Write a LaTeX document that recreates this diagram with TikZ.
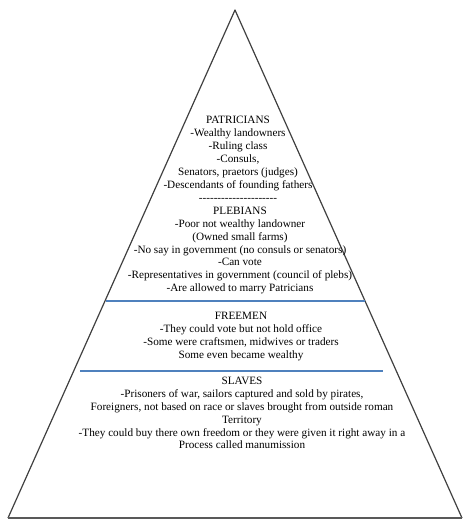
\documentclass[tikz,border=0pt]{standalone}
\usepackage{fontspec}
\setmainfont{Liberation Serif}
\newfontfamily\plainserif{Liberation Serif}
\usepackage{xcolor}
\definecolor{tierblue}{RGB}{79,129,189}

\begin{document}
\begin{tikzpicture}[x=0.75pt, y=-0.75pt,
    tier/.style={align=center, inner sep=0pt, font=\fontsize{8.4}{9.7}\selectfont},
    divider/.style={tierblue, line width=1.5pt}]
  \useasboundingbox (0,0) rectangle (474,522);
  \coordinate (apex) at (235,10);
  \coordinate (bl) at (8,518);
  \coordinate (br) at (462,518);
  \draw[line width=0.9pt, black!75, line join=round] (bl) -- (apex) -- (br);
  \draw[line width=1.4pt, black!65] (bl) -- (br);
  \coordinate (d1l) at (106,301); \coordinate (d1r) at (365,301);
  \coordinate (d2l) at (80,371);  \coordinate (d2r) at (383,371);
  \draw[divider] (d1l) -- (d1r);
  \draw[divider] (d2l) -- (d2r);
  \node[tier] (patricians) at (238,158.5) {PATRICIANS\\ -Wealthy landowners\\ -Ruling class\\ -Consuls,\\
    Senators, praetors (judges)\\ -Descendants of founding fathers\\ {\plainserif---------------------}};
  \node[tier] (plebians) at (240,250.5) {PLEBIANS\\ -Poor not wealthy landowner\\ (Owned small farms)\\
    -No say in government (no consuls or senators)\\ -Can vote\\
    -Representatives in government (council of plebs)\\ -Are allowed to marry Patricians};
  \node[tier] (freemen) at (241,336.5) {FREEMEN\\ -They could vote but not hold office\\
    -Some were craftsmen, midwives or traders\\ Some even became wealthy};
  \node[tier] (slaves) at (242,413) {SLAVES\\ -Prisoners of war, sailors captured and sold by pirates,\\
    Foreigners, not based on race or slaves brought from outside roman\\ Territory\\
    -They could buy there own freedom or they were given it right away in a\\ Process called manumission};
\end{tikzpicture}
\end{document}
